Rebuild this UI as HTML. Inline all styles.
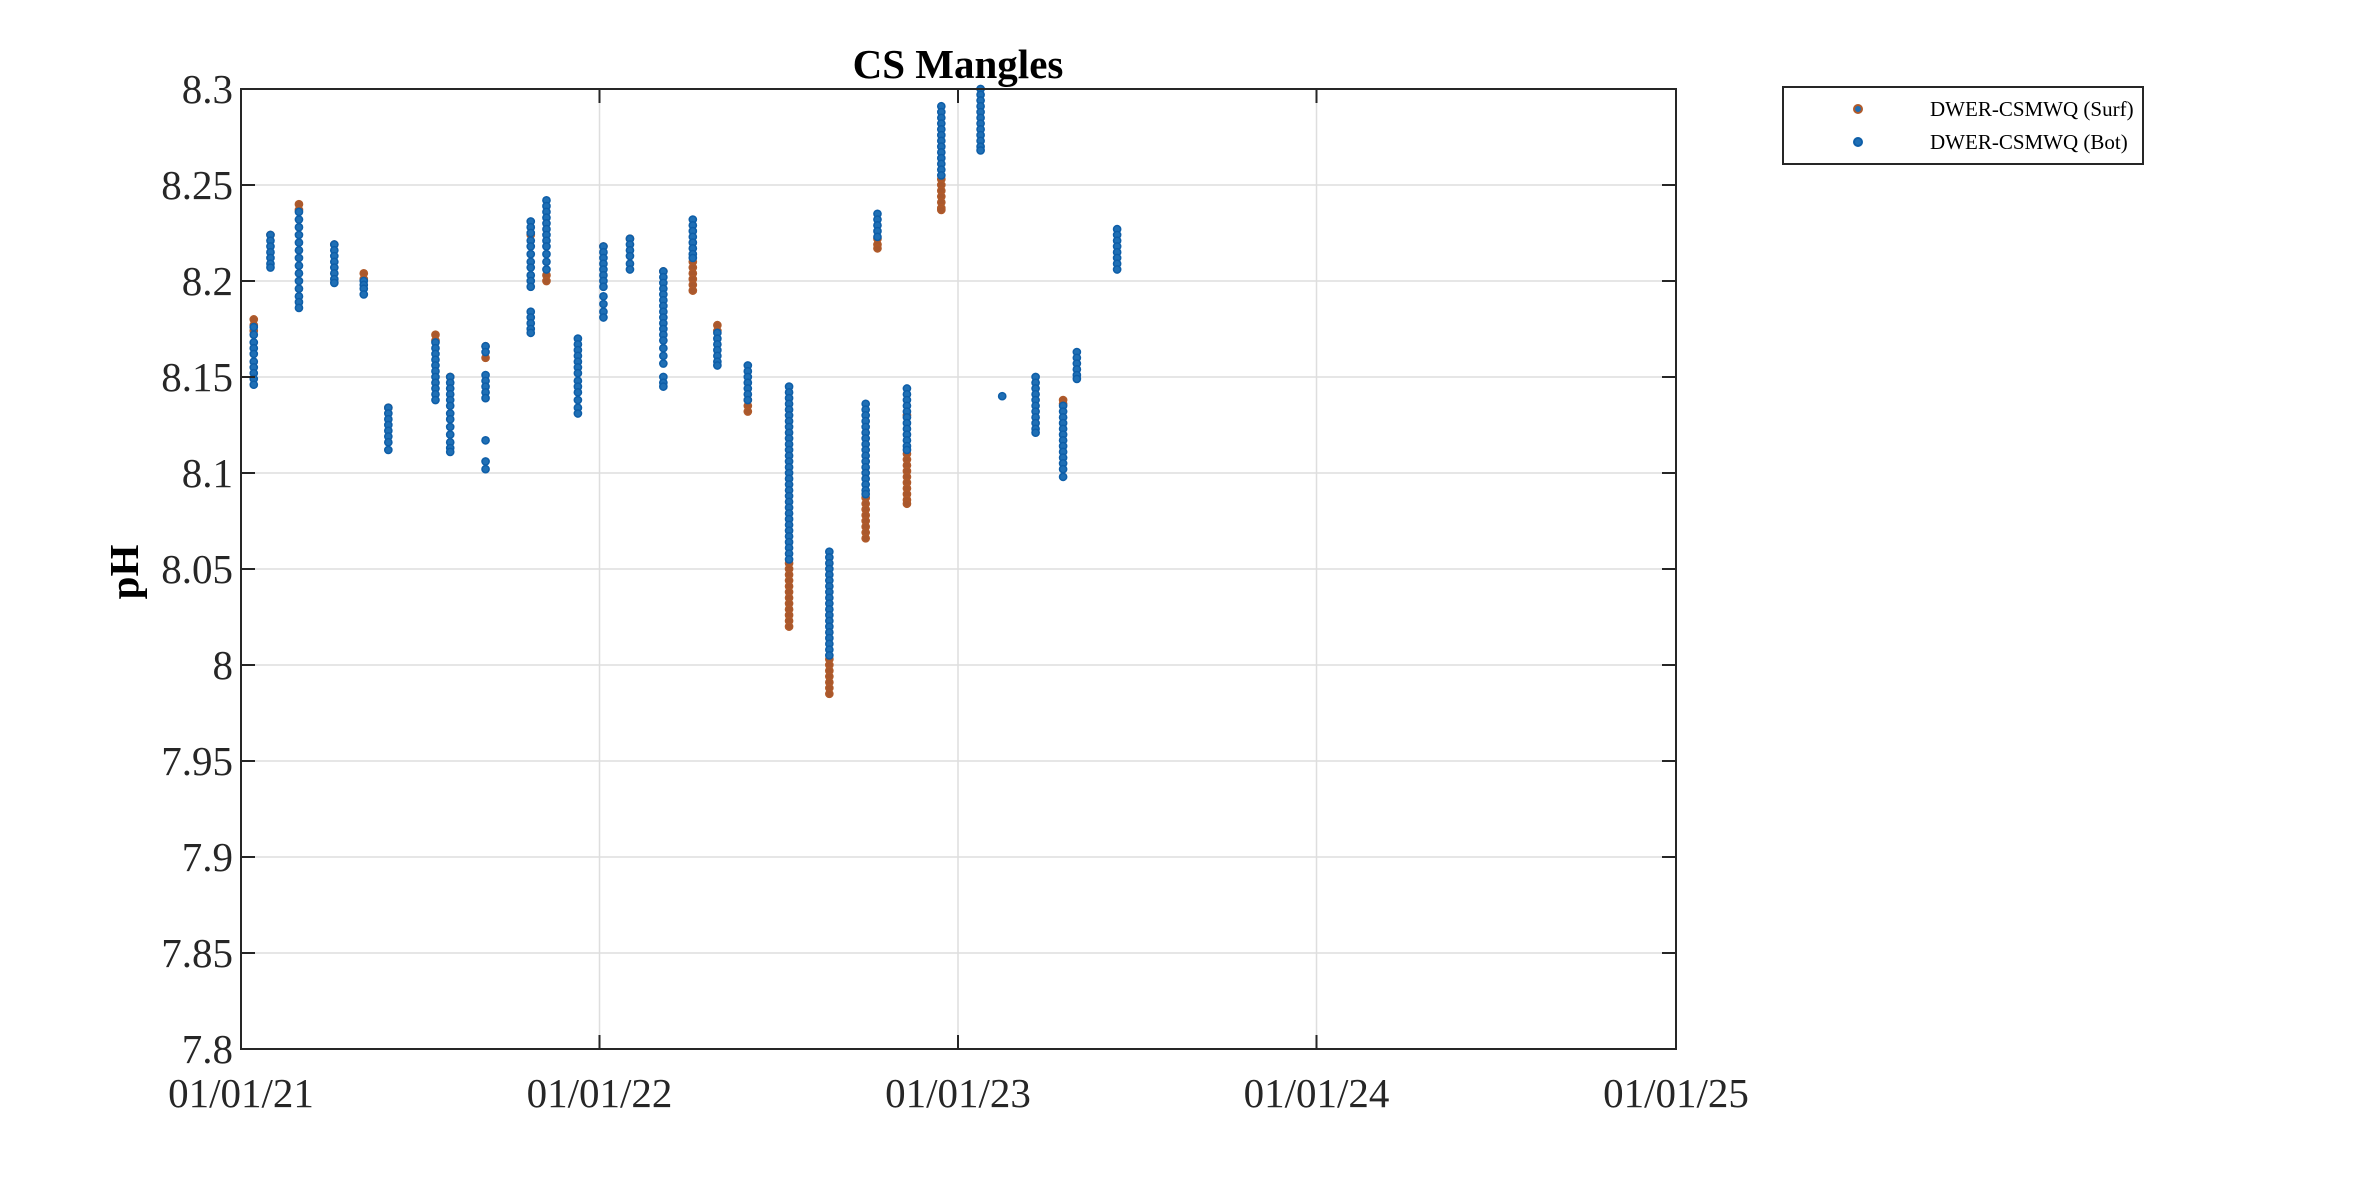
<!DOCTYPE html>
<html><head><meta charset="utf-8"><style>
html,body{margin:0;padding:0;background:#fff;}
svg{display:block;font-family:"Liberation Serif",serif;}
</style></head><body>
<svg id="chart" width="2362" height="1181" viewBox="0 0 2362 1181" xmlns="http://www.w3.org/2000/svg">
<rect width="2362" height="1181" fill="#fff"/>
<g id="grid"></g>
<g id="marks"></g>
<g id="axes"></g>
<text x="958" y="78" text-anchor="middle" font-size="41" font-weight="bold" fill="#000">CS Mangles</text>
<text transform="translate(138,572) rotate(-90)" text-anchor="middle" font-size="41" font-weight="bold" fill="#000">pH</text>
<g>
<rect x="1783" y="87" width="360" height="77" fill="#fff" stroke="#262626" stroke-width="2"/>
<circle cx="1858" cy="109" r="4" fill="#1f6fb5" stroke="#b05a2a" stroke-width="2"/>
<text x="1930" y="116" font-size="21">DWER-CSMWQ (Surf)</text>
<circle cx="1858" cy="142" r="4" fill="#1f6fb5" stroke="#0e5ea8" stroke-width="2"/>
<text x="1930" y="149" font-size="21">DWER-CSMWQ (Bot)</text>
</g>
</svg>
<script>
const sampleDates = ["2021-01-14","2021-01-31","2021-03-01","2021-04-06","2021-05-06","2021-05-31","2021-07-18","2021-08-02","2021-09-07","2021-10-23","2021-11-08","2021-12-10","2022-01-05","2022-02-01","2022-03-07","2022-04-06","2022-05-01","2022-06-01","2022-07-13","2022-08-23","2022-09-29","2022-10-11","2022-11-10","2022-12-15","2023-01-24","2023-02-15","2023-03-21","2023-04-18","2023-05-02","2023-06-12"];
const surfValues = [
[8.180,8.177,8.174],[8.224],[8.240,8.237],[8.219],[8.204,8.201],[8.134],[8.172,8.169],[8.150],[8.166,8.160],[8.224],
[8.203,8.200],[],[8.218],[8.222],[8.205],[8.210,8.207,8.204,8.201,8.198,8.195],[8.177,8.174],[8.138,8.135,8.132],
[8.053,8.050,8.047,8.044,8.041,8.038,8.035,8.032,8.029,8.026,8.023,8.020],
[8.003,8.000,7.997,7.994,7.991,7.988,7.985],
[8.087,8.084,8.081,8.078,8.075,8.072,8.069,8.066],
[8.222,8.219,8.217],
[8.130,8.110,8.107,8.104,8.101,8.098,8.095,8.092,8.089,8.086,8.084],
[8.253,8.250,8.247,8.244,8.241,8.238,8.237],
[],[],[],[8.138,8.136],[],[]
];
const botValues = [
[8.176,8.172,8.168,8.165,8.162,8.158,8.155,8.152,8.149,8.146],
[8.224,8.221,8.218,8.215,8.212,8.209,8.207],
[8.236,8.232,8.228,8.224,8.220,8.216,8.212,8.208,8.204,8.200,8.196,8.192,8.189,8.186],
[8.219,8.216,8.213,8.210,8.207,8.204,8.201,8.199],
[8.200,8.198,8.196,8.193],
[8.134,8.131,8.128,8.125,8.122,8.119,8.116,8.112],
[8.168,8.165,8.162,8.159,8.156,8.153,8.150,8.147,8.144,8.141,8.138],
[8.150,8.147,8.144,8.141,8.138,8.135,8.131,8.128,8.124,8.120,8.116,8.113,8.111],
[8.166,8.163,8.151,8.148,8.145,8.142,8.139,8.117,8.106,8.102],
[8.231,8.228,8.225,8.221,8.218,8.214,8.210,8.207,8.203,8.200,8.197,8.184,8.181,8.178,8.175,8.173],
[8.242,8.239,8.236,8.233,8.230,8.227,8.224,8.221,8.218,8.214,8.210,8.206],
[8.170,8.167,8.164,8.161,8.158,8.155,8.152,8.148,8.145,8.142,8.138,8.134,8.131],
[8.218,8.215,8.212,8.209,8.206,8.203,8.200,8.197,8.192,8.188,8.184,8.181],
[8.222,8.219,8.216,8.213,8.209,8.206],
[8.205,8.202,8.199,8.196,8.193,8.190,8.187,8.184,8.181,8.178,8.175,8.172,8.169,8.165,8.161,8.157,8.150,8.147,8.145],
[8.232,8.229,8.226,8.223,8.220,8.217,8.214,8.212],
[8.173,8.170,8.167,8.164,8.161,8.158,8.156],
[8.156,8.153,8.150,8.147,8.144,8.141,8.138],
[8.145,8.142,8.139,8.136,8.133,8.130,8.127,8.124,8.121,8.118,8.115,8.112,8.109,8.106,8.103,8.100,8.097,8.094,8.091,8.088,8.085,8.082,8.079,8.076,8.073,8.070,8.067,8.064,8.061,8.058,8.055],
[8.059,8.056,8.053,8.050,8.047,8.044,8.041,8.038,8.035,8.032,8.029,8.026,8.023,8.020,8.017,8.014,8.011,8.008,8.005],
[8.136,8.133,8.130,8.127,8.124,8.121,8.118,8.115,8.112,8.109,8.106,8.103,8.100,8.097,8.094,8.091,8.089],
[8.235,8.232,8.229,8.226,8.223],
[8.144,8.141,8.138,8.135,8.132,8.129,8.126,8.123,8.120,8.117,8.114,8.112],
[8.291,8.288,8.285,8.282,8.279,8.276,8.273,8.270,8.267,8.264,8.261,8.258,8.255],
[8.300,8.297,8.294,8.291,8.288,8.285,8.282,8.279,8.276,8.273,8.270,8.268],
[8.140],
[8.150,8.147,8.144,8.141,8.138,8.135,8.132,8.129,8.126,8.123,8.121],
[8.135,8.132,8.129,8.126,8.123,8.120,8.117,8.114,8.111,8.108,8.105,8.102,8.098],
[8.163,8.160,8.157,8.154,8.151,8.149],
[8.227,8.224,8.221,8.218,8.215,8.212,8.209,8.206]
];
const yTicks = [7.8,7.85,7.9,7.95,8,8.05,8.1,8.15,8.2,8.25,8.3];
const yTickLabels = ["7.8","7.85","7.9","7.95","8","8.05","8.1","8.15","8.2","8.25","8.3"];
const xTicks = ["2021-01-01","2022-01-01","2023-01-01","2024-01-01","2025-01-01"];
const xTickLabels = ["01/01/21","01/01/22","01/01/23","01/01/24","01/01/25"];

const NS = "http://www.w3.org/2000/svg";
const L = 241, R = 1676, T = 89, B = 1049;
const xMin = Date.parse("2021-01-01"), xMax = Date.parse("2025-01-01");
const yMin = 7.8, yMax = 8.3;
function xScale(d){ return L + (Date.parse(d) - xMin) / (xMax - xMin) * (R - L); }
function yScale(v){ return B - (v - yMin) / (yMax - yMin) * (B - T); }
function mk(tag, attrs, parent){ const e = document.createElementNS(NS, tag); for (const k in attrs) e.setAttribute(k, attrs[k]); parent.appendChild(e); return e; }

const grid = document.getElementById("grid"), axes = document.getElementById("axes"), marks = document.getElementById("marks");
yTicks.forEach((v, i) => {
  const y = yScale(v);
  const g = mk("line", {x1:L, x2:R, y1:y, y2:y, stroke:"#dedede", "stroke-width":1.5}, grid);
  
  
  mk("line", {x1:L, x2:L+14, y1:y, y2:y, stroke:"#262626", "stroke-width":2}, axes);
  mk("line", {x1:R-14, x2:R, y1:y, y2:y, stroke:"#262626", "stroke-width":2}, axes);
  const t = mk("text", {x:L-8, y:y+14, "text-anchor":"end", "font-size":41, fill:"#262626"}, axes);
  
  
  t.textContent = yTickLabels[i];
});
xTicks.forEach((d, i) => {
  const x = xScale(d);
  const g = mk("line", {x1:x, x2:x, y1:T, y2:B, stroke:"#dedede", "stroke-width":1.5}, grid);
  
  
  mk("line", {x1:x, x2:x, y1:B-14, y2:B, stroke:"#262626", "stroke-width":2}, axes);
  mk("line", {x1:x, x2:x, y1:T, y2:T+14, stroke:"#262626", "stroke-width":2}, axes);
  const t = mk("text", {x:x, y:1107, "text-anchor":"middle", "font-size":41, fill:"#262626"}, axes);
  
  
  t.textContent = xTickLabels[i];
});
const box = mk("rect", {x:L, y:T, width:R-L, height:B-T, fill:"none", stroke:"#262626", "stroke-width":2}, axes);



sampleDates.forEach((d, i) => {
  const x = xScale(d);
  surfValues[i].forEach(v => {
    const c = mk("circle", {cx:x, cy:yScale(v), r:3.6, fill:"#a9582d", stroke:"#b05a2a", "stroke-width":1.5}, marks);
    
    
  });
});
sampleDates.forEach((d, i) => {
  const x = xScale(d);
  botValues[i].forEach(v => {
    const c = mk("circle", {cx:x, cy:yScale(v), r:3.6, fill:"#1f6fb5", stroke:"#0e5ea8", "stroke-width":1.5}, marks);
    
    
  });
});
</script>
</body></html>
